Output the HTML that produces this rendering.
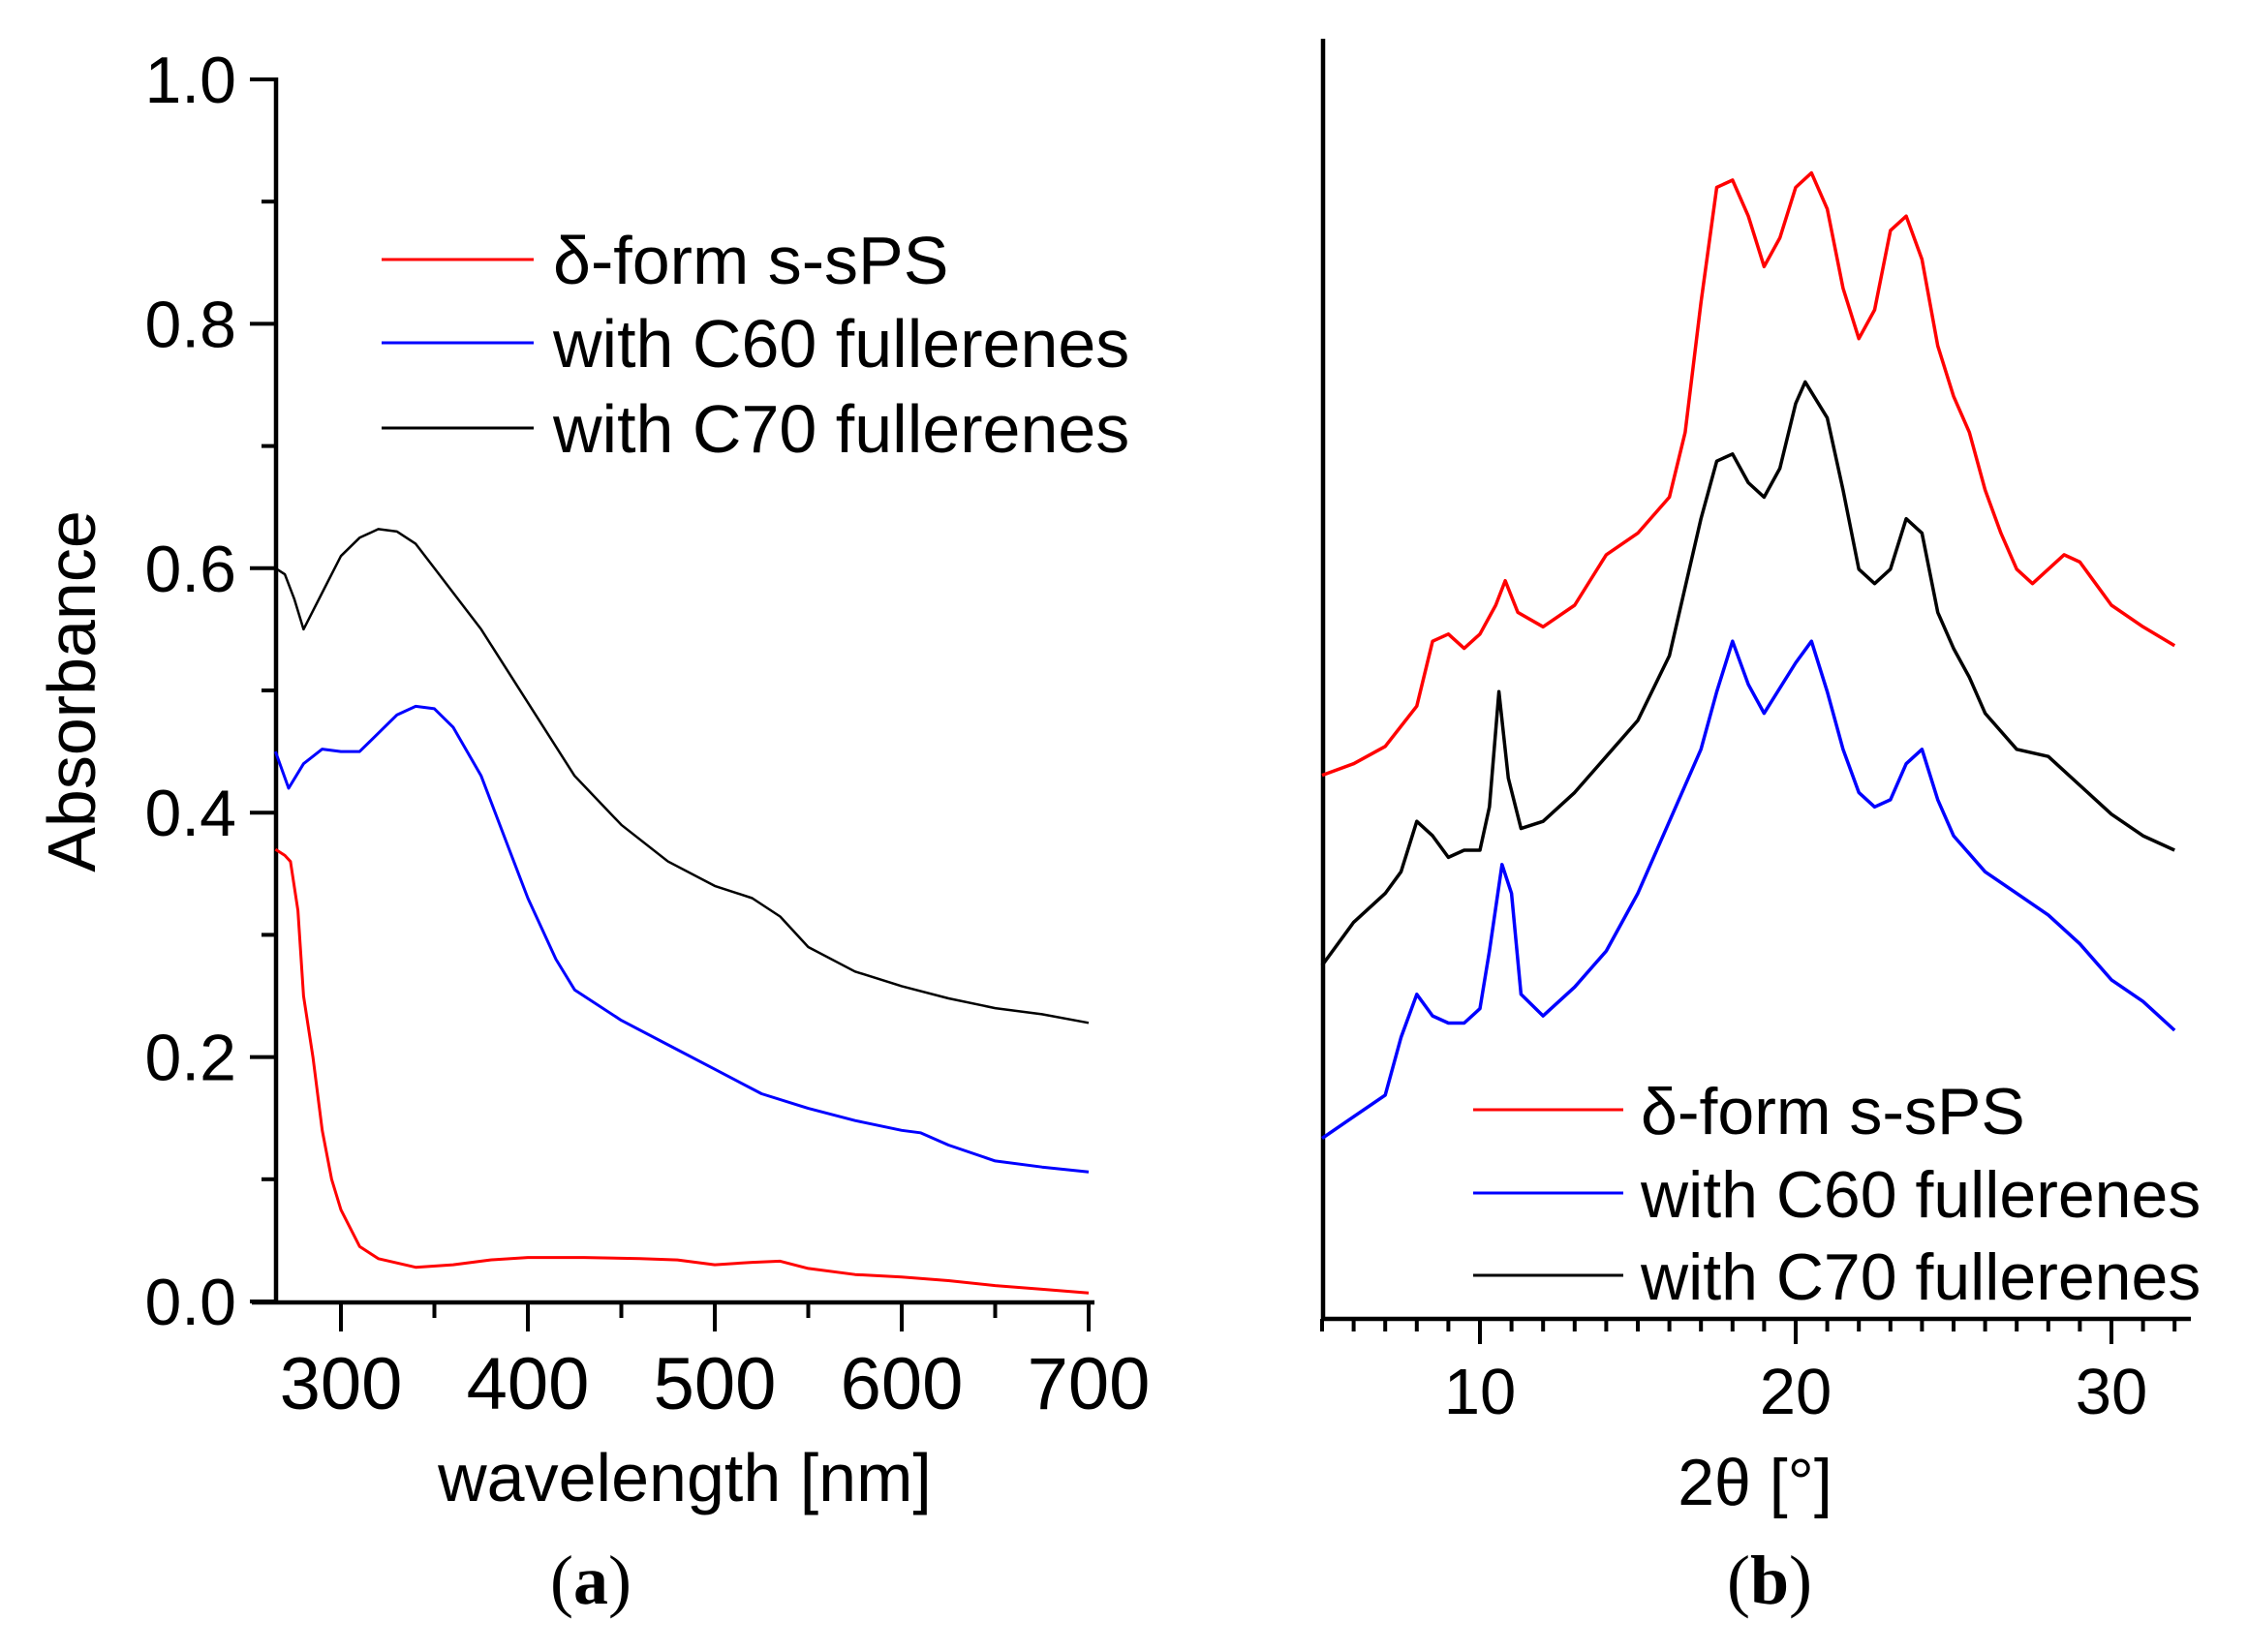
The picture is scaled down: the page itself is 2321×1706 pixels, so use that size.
<!DOCTYPE html>
<html><head><meta charset="utf-8"><style>
body{margin:0;background:#fff}
svg{display:block;font-family:"Liberation Sans",sans-serif}
</style></head><body>
<svg width="2321" height="1706" viewBox="0 0 2321 1706" xmlns="http://www.w3.org/2000/svg">
<g id="pa"></g>
<g id="pb"></g>
<text x="0" y="0" transform="translate(98,714) rotate(-90)" text-anchor="middle" font-size="70">Absorbance</text>
<text x="707" y="1550" text-anchor="middle" font-size="70">wavelength [nm]</text>
<text x="610" y="1656" text-anchor="middle" font-size="72" font-family="Liberation Serif, serif">(<tspan font-weight="bold">a</tspan>)</text>
<text x="1812" y="1554" text-anchor="middle" font-size="68">2θ [°]</text>
<text x="1827" y="1656" text-anchor="middle" font-size="72" font-family="Liberation Serif, serif">(<tspan font-weight="bold">b</tspan>)</text>
</svg>
<script>
// Panel A data
const aRedX=[265,270,273,277,280,285,290,295,300,310,320,340,360,380,400,430,460,480,500,520,535,550,575,600,625,650,675,700];
const aRedY=[0.37,0.365,0.36,0.32,0.25,0.2,0.14,0.1,0.075,0.045,0.035,0.028,0.03,0.034,0.036,0.036,0.035,0.034,0.03,0.032,0.033,0.027,0.022,0.02,0.017,0.013,0.01,0.007];
const aBlueX=[265,272,280,290,300,310,320,330,340,350,360,375,390,400,415,425,450,475,500,525,550,575,600,610,625,650,675,700];
const aBlueY=[0.45,0.42,0.44,0.452,0.45,0.45,0.465,0.48,0.487,0.485,0.47,0.43,0.37,0.33,0.28,0.255,0.23,0.21,0.19,0.17,0.158,0.148,0.14,0.138,0.128,0.115,0.11,0.106];
const aBlackX=[265,270,275,280,290,300,310,320,330,340,350,360,375,400,425,450,475,500,520,535,550,575,600,625,650,675,700];
const aBlackY=[0.60,0.595,0.575,0.55,0.58,0.61,0.625,0.632,0.63,0.62,0.60,0.58,0.55,0.49,0.43,0.39,0.36,0.34,0.33,0.315,0.29,0.27,0.258,0.248,0.24,0.235,0.228];
const aYTicks=["0.0","0.2","0.4","0.6","0.8","1.0"];
const aXTicks=["300","400","500","600","700"];
// Panel B data (intensity, a.u.)
const bRedX=[5,6,7,8,8.5,9,9.5,10,10.5,10.8,11.2,12,13,14,15,16,16.5,17,17.5,18,18.5,19,19.5,20,20.5,21,21.5,22,22.5,23,23.5,24,24.5,25,25.5,26,26.5,27,27.5,28,28.5,29,30,31,32];
const bRedY=[382,390,402,430,475,480,470,480,500,517,495,485,500,535,550,575,620,710,790,795,770,735,755,790,800,775,720,685,705,760,770,740,680,645,620,580,550,525,515,525,535,530,500,485,472];
const bBlackX=[5,6,7,7.5,8,8.5,9,9.5,10,10.3,10.6,10.9,11.3,12,13,14,15,16,17,17.5,18,18.5,19,19.5,20,20.3,21,21.5,22,22.5,23,23.5,24,24.5,25,25.5,26,27,28,29,30,31,32];
const bBlackY=[250,280,300,315,350,340,325,330,330,360,440,380,345,350,370,395,420,465,560,600,605,585,575,595,640,655,630,580,525,515,525,560,550,495,470,450,425,400,395,375,355,340,330];
const bBlueX=[5,6,7,7.5,8,8.5,9,9.5,10,10.3,10.7,11,11.3,12,12.5,13,14,15,16,17,17.5,18,18.5,19,20,20.5,21,21.5,22,22.5,23,23.5,24,24.5,25,26,27,28,29,30,31,32];
const bBlueY=[130,145,160,200,230,215,210,210,220,260,320,300,230,215,225,235,260,300,350,400,440,475,445,425,460,475,440,400,370,360,365,390,400,365,340,315,300,285,265,240,225,205];
const bXTicks=["10","20","30"];

const NS="http://www.w3.org/2000/svg";
function mk(parent,tag,attrs){const e=document.createElementNS(NS,tag);for(const k in attrs)e.setAttribute(k,attrs[k]);parent.appendChild(e);return e;}

const pa=document.getElementById('pa');
function axA(v){return 352+(v-300)*1.93;}
function ayA(v){return 1344-v*1262;}
let e;
e=mk(pa,'line',{x1:260,y1:1345,x2:1130,y2:1345,stroke:'#000','stroke-width':4.5});


e=mk(pa,'line',{x1:285,y1:80,x2:285,y2:1347,stroke:'#000','stroke-width':4.5});


for(let i=0;i<=10;i++){const y=ayA(i/10);const L=i%2==0?27:15;
 e=mk(pa,'line',{x1:285-L,y1:y,x2:285,y2:y,stroke:'#000','stroke-width':4});
 
 }
aYTicks.forEach((t,i)=>{e=mk(pa,'text',{x:244,y:ayA(i*0.2)+24,'text-anchor':'end','font-size':68});e.textContent=t;
 
 });
for(let v=300;v<=700;v+=50){const x=axA(v);const L=v%100==0?30:16;
 e=mk(pa,'line',{x1:x,y1:1345,x2:x,y2:1345+L,stroke:'#000','stroke-width':4});
 
 }
aXTicks.forEach((t,i)=>{e=mk(pa,'text',{x:axA(300+i*100),y:1455,'text-anchor':'middle','font-size':76});e.textContent=t;
 
 });
function line(parent,X,Y,fx,fy,col,name,w){const d=X.map((x,i)=>(i?'L':'M')+fx(x).toFixed(1)+' '+fy(Y[i]).toFixed(1)).join(' ');
 const p=mk(parent,'path',{d:d,fill:'none',stroke:col,'stroke-width':w,'stroke-linejoin':'round'});
 
 }
line(pa,aBlackX,aBlackY,axA,ayA,'#000','series-c70-a',2.5);
line(pa,aBlueX,aBlueY,axA,ayA,'#0000ff','series-c60-a',3);
line(pa,aRedX,aRedY,axA,ayA,'#ff0000','series-delta-a',3);
function legend(parent,x0,x1,tx,ys,fs,pfx){const items=[['δ-form s-sPS','#ff0000'],['with C60 fullerenes','#0000ff'],['with C70 fullerenes','#000']];
 items.forEach((it,i)=>{const g=mk(parent,'g',{});
  
  
  mk(g,'line',{x1:x0,y1:ys[i],x2:x1,y2:ys[i],stroke:it[1],'stroke-width':3});
  const t=mk(g,'text',{x:tx,y:ys[i]+25,'font-size':fs});t.textContent=it[0];});}
legend(pa,394,551,571,[268,354,442],70,'a');

const pb=document.getElementById('pb');
function bx(v){return 1528+(v-10)*32.6;}
function by(v){return 1369-v*1.488;}
e=mk(pb,'line',{x1:1366,y1:1362,x2:2262,y2:1362,stroke:'#000','stroke-width':4.5});


e=mk(pb,'line',{x1:1366,y1:40,x2:1366,y2:1364,stroke:'#000','stroke-width':4.5});


for(let v=5;v<=32;v++){const x=bx(v);const L=v%10==0?26:13;
 e=mk(pb,'line',{x1:x,y1:1362,x2:x,y2:1362+L,stroke:'#000','stroke-width':4});
 
 }
bXTicks.forEach((t,i)=>{e=mk(pb,'text',{x:bx(10+i*10),y:1460,'text-anchor':'middle','font-size':67});e.textContent=t;
 
 });
line(pb,bRedX,bRedY,bx,by,'#ff0000','series-delta-b',3.5);
line(pb,bBlackX,bBlackY,bx,by,'#000','series-c70-b',3.5);
line(pb,bBlueX,bBlueY,bx,by,'#0000ff','series-c60-b',3.5);
legend(pb,1521,1676,1694,[1146,1232,1317],68,'b');
</script>
</body></html>
